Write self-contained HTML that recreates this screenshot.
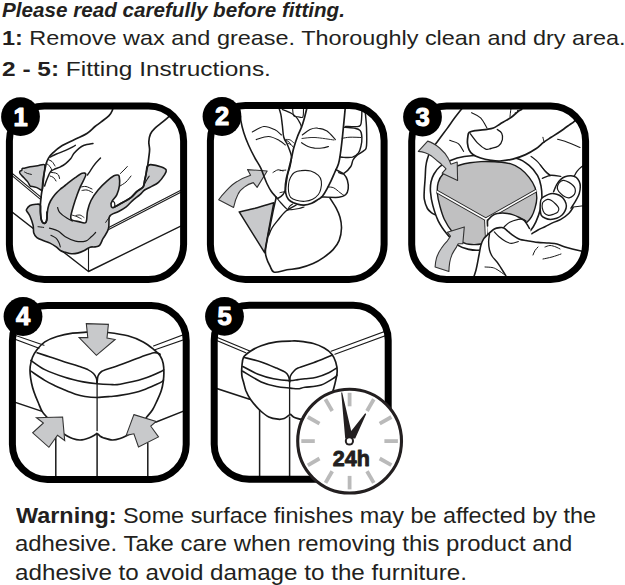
<!DOCTYPE html>
<html><head><meta charset="utf-8">
<style>
html,body{margin:0;padding:0;background:#fff;width:625px;height:585px;overflow:hidden;}
body{position:relative;font-family:"Liberation Sans",sans-serif;color:#231f20;}
.t{position:absolute;white-space:nowrap;left:0;line-height:1;transform-origin:0 0;}
b{font-weight:bold;}
svg{position:absolute;left:0;top:0;}
svg text{font-family:"Liberation Sans",sans-serif;font-weight:bold;}
</style></head><body>
<div class="t" id="l1" style="left:2.40px;top:-0.20px;font-size:20.5px;font-weight:bold;font-style:italic;transform:scaleX(1.0068);">Please read carefully before fitting.</div>
<div class="t" id="l2" style="left:1.78px;top:27.10px;font-size:21px;transform:scaleX(1.1158);"><b>1:</b> Remove wax and grease. Thoroughly clean and dry area.</div>
<div class="t" id="l3" style="left:1.74px;top:57.50px;font-size:21px;transform:scaleX(1.1636);"><b>2 - 5:</b> Fitting Instructions.</div>
<svg width="625" height="585" viewBox="0 0 625 585" stroke-linecap="round" stroke-linejoin="round">
<defs>
<clipPath id="c1"><rect x="9.4" y="105.9" width="174.2" height="173.6" rx="35"/></clipPath>
<clipPath id="c2"><rect x="210.4" y="105.4" width="173.7" height="174" rx="35"/></clipPath>
<clipPath id="c3"><rect x="411.7" y="105.9" width="173.9" height="173.6" rx="35"/></clipPath>
<clipPath id="c4"><rect x="12.4" y="305.4" width="173.8" height="174" rx="35"/></clipPath>
<clipPath id="c5"><rect x="214.2" y="305.3" width="174" height="174" rx="35"/></clipPath>
</defs>
<g clip-path="url(#c1)">
<path d="M8.0,170.0 L41.5,197.6" fill="none" stroke="#1a1a1a" stroke-width="1.10"/>
<path d="M8.0,172.3 L40.5,199.4" fill="none" stroke="#1a1a1a" stroke-width="1.10"/>
<path d="M8.0,208.8 L88.5,271.5 L186.0,223.5" fill="none" stroke="#1a1a1a" stroke-width="1.40"/>
<path d="M88.5,248.0 L88.5,271.5" fill="none" stroke="#1a1a1a" stroke-width="1.10"/>
<path d="M100.0,231.9 L186.0,187.7" fill="none" stroke="#1a1a1a" stroke-width="1.10"/>
<path d="M100.0,233.9 L186.0,189.7" fill="none" stroke="#1a1a1a" stroke-width="1.10"/>
<path d="M22.2,168.6 C21.9,168.9 22.2,169.9 21.8,170.3 C21.4,170.8 20.1,170.7 19.8,171.3 C19.5,171.9 19.4,172.6 20.1,173.7 C20.8,174.8 22.6,176.4 23.9,177.8 C25.2,179.2 26.7,180.5 27.7,181.9 C28.7,183.3 29.4,185.2 30.1,186.0 C30.8,186.8 31.1,186.2 32.1,186.4 C33.1,186.6 34.8,186.9 36.2,187.4 C37.6,187.9 39.3,189.0 40.3,189.5 C41.3,190.0 41.6,191.4 42.1,190.5 C42.6,189.6 42.8,186.8 43.1,184.0 C43.4,181.2 43.9,176.9 44.1,173.7 C44.3,170.5 45.6,166.1 44.5,164.8 C43.4,163.5 40.0,165.5 37.6,165.8 C35.2,166.1 32.4,166.4 30.1,166.8 C27.8,167.2 25.2,167.9 23.9,168.2 C22.6,168.5 22.5,168.2 22.2,168.6Z" fill="#c8c9cb" stroke="#1a1a1a" stroke-width="1.50"/>
<path d="M24.6,172.0 C25.1,172.2 26.2,173.0 27.3,173.4 C28.4,173.8 30.7,174.2 31.4,174.4" fill="none" stroke="#1a1a1a" stroke-width="1.00"/>
<path d="M26.5,209.5 C27.0,208.5 28.4,206.4 30.0,205.5 C31.6,204.6 34.3,204.4 36.0,204.3 C37.7,204.2 39.5,203.7 40.3,205.0 C41.0,206.3 40.4,209.8 40.5,212.0 C40.6,214.2 40.6,216.7 41.0,218.5 C41.4,220.3 42.1,222.0 42.8,222.8 C43.5,223.6 44.3,223.7 45.0,223.3 C45.7,222.9 46.4,222.1 46.8,220.5 C47.2,218.9 47.0,216.1 47.2,214.0 C47.4,211.9 47.5,210.2 48.0,208.0 C48.5,205.8 49.3,203.2 50.5,201.0 C51.7,198.8 53.4,196.4 55.0,194.5 C56.6,192.6 58.5,190.8 60.0,189.5 C61.5,188.2 62.6,187.5 64.0,186.4 C65.4,185.3 66.3,184.4 68.2,182.9 C70.1,181.4 72.9,179.2 75.2,177.6 C77.5,176.0 80.5,173.6 82.3,173.2 C84.1,172.8 86.1,172.8 85.8,175.0 C85.5,177.2 82.0,183.0 80.5,186.4 C79.0,189.8 78.2,192.0 77.0,195.2 C75.8,198.4 74.5,202.3 73.5,205.8 C72.5,209.3 71.1,214.0 70.8,216.3 C70.5,218.7 70.4,219.0 71.7,219.9 C73.0,220.8 76.4,221.2 78.7,221.6 C81.0,222.0 84.3,224.2 85.8,222.5 C87.3,220.8 86.6,214.8 87.5,211.1 C88.4,207.4 89.2,204.0 91.0,200.5 C92.8,197.0 95.4,193.1 98.1,189.9 C100.8,186.7 104.3,183.4 106.9,181.1 C109.5,178.8 112.1,176.8 113.9,175.8 C115.7,174.8 116.6,174.9 117.5,175.0 C118.4,175.1 118.9,174.8 119.2,176.5 C119.5,178.2 119.9,182.4 119.5,185.4 C119.1,188.4 118.1,192.0 116.9,194.6 C115.7,197.2 113.3,199.2 112.3,200.8 C111.3,202.4 111.0,202.9 111.0,204.0 C111.0,205.1 111.4,207.0 112.0,207.5 C112.6,208.0 112.8,207.8 114.6,206.9 C116.4,206.0 120.4,203.8 123.1,202.3 C125.8,200.8 128.5,199.5 130.8,197.7 C133.1,195.9 134.9,193.3 136.9,191.5 C138.9,189.7 141.8,188.7 143.1,186.9 C144.4,185.1 144.1,183.1 144.6,180.8 C145.1,178.5 145.8,175.5 146.2,173.1 C146.6,170.7 146.4,167.9 147.2,166.5 C148.0,165.1 148.4,164.5 150.8,164.6 C153.2,164.7 158.9,166.0 161.5,166.9 C164.1,167.8 165.7,168.7 166.2,170.0 C166.7,171.3 165.9,172.5 164.6,174.6 C163.3,176.7 160.8,180.2 158.5,182.3 C156.2,184.4 153.1,185.6 150.8,186.9 C148.5,188.2 146.4,188.7 144.6,190.0 C142.8,191.3 142.1,192.8 140.0,194.6 C137.9,196.4 134.6,198.8 132.3,200.8 C130.0,202.9 128.5,205.1 126.2,206.9 C123.9,208.7 121.0,210.2 118.5,211.5 C116.0,212.8 113.0,213.6 111.5,214.6 C110.0,215.6 109.7,215.2 109.2,217.5 C108.7,219.8 109.3,225.4 108.5,228.5 C107.7,231.6 105.6,234.4 104.6,236.2 C103.6,238.0 103.5,237.7 102.7,239.2 C101.9,240.7 100.9,244.1 99.6,245.4 C98.3,246.7 96.6,246.6 95.0,246.9 C93.4,247.2 91.9,246.5 90.0,247.2 C88.1,247.8 85.8,249.8 83.8,250.8 C81.8,251.8 79.8,252.6 77.7,253.1 C75.7,253.6 73.5,253.9 71.5,253.8 C69.5,253.7 67.2,252.8 65.4,252.3 C63.6,251.8 62.3,251.7 60.8,250.8 C59.3,249.9 58.0,248.2 56.2,246.9 C54.4,245.6 52.1,244.1 50.0,243.1 C47.9,242.1 46.0,241.7 43.8,240.8 C41.6,239.9 38.6,239.0 36.9,237.7 C35.2,236.4 34.4,235.1 33.8,233.1 C33.2,231.1 33.7,228.2 33.1,225.4 C32.5,222.6 31.0,218.5 30.0,216.2 C29.0,213.9 27.6,212.6 27.0,211.5 C26.4,210.4 26.0,210.5 26.5,209.5Z" fill="#c8c9cb" stroke="#1a1a1a" stroke-width="1.60"/>
<path d="M49.5,228.1 C50.9,228.6 55.5,229.6 58.1,231.0 C60.7,232.4 62.4,235.1 65.3,236.8 C68.2,238.5 72.0,240.4 75.4,241.1 C78.8,241.8 82.8,241.8 85.5,241.1 C88.2,240.4 89.6,238.2 91.3,236.8 C93.0,235.4 94.9,233.2 95.6,232.5" fill="none" stroke="#1a1a1a" stroke-width="1.20"/>
<path d="M50.9,235.3 C51.8,235.8 54.7,237.0 56.0,238.2 C57.3,239.4 58.2,241.1 58.9,242.6 C59.6,244.1 60.1,246.2 60.3,246.9" fill="none" stroke="#1a1a1a" stroke-width="1.10"/>
<path d="M38.0,226.7 C39.0,226.8 42.8,227.3 43.7,227.4" fill="none" stroke="#1a1a1a" stroke-width="1.00"/>
<path d="M57.6,207.5 C57.9,208.3 58.1,210.6 59.6,212.3 C61.1,214.1 64.6,216.6 66.8,218.0 C69.0,219.4 71.5,220.5 72.5,221.0" fill="none" stroke="#1a1a1a" stroke-width="1.20"/>
<path d="M105.7,222.4 C106.1,221.8 107.3,220.0 108.0,219.0 C108.7,218.0 109.7,217.0 110.0,216.6" fill="none" stroke="#1a1a1a" stroke-width="1.00"/>
<path d="M72.5,215.2 C73.2,215.4 75.5,216.0 76.9,216.6 C78.4,217.2 80.5,218.4 81.2,218.8" fill="none" stroke="#1a1a1a" stroke-width="1.00"/>
<path d="M120.0,186.0 C121.0,185.3 124.2,183.7 126.0,182.0 C127.8,180.3 130.2,177.0 131.0,176.0" fill="none" stroke="#1a1a1a" stroke-width="1.00"/>
<path d="M113.8,103.0 C113.5,104.2 113.1,108.4 112.3,110.5 C111.5,112.6 110.6,113.9 108.8,115.8 C107.0,117.7 103.5,120.1 101.2,121.9 C98.9,123.7 97.4,124.6 95.0,126.5 C92.6,128.4 90.3,131.3 86.9,133.5 C83.5,135.7 78.9,137.4 74.6,139.6 C70.2,141.8 64.4,144.3 60.8,146.5 C57.2,148.7 55.1,150.8 53.1,152.7 C51.1,154.6 49.6,156.3 48.5,158.1 C47.4,159.9 46.9,161.3 46.2,163.5 C45.6,165.7 45.1,168.6 44.6,171.2 C44.1,173.8 43.5,176.0 43.1,178.8 C42.7,181.6 42.6,185.2 42.3,188.1 C42.0,191.0 41.5,193.2 41.2,196.0 C40.9,198.8 40.5,202.2 40.4,205.0 C40.3,207.8 40.3,210.5 40.5,213.0 C40.7,215.5 40.9,218.3 41.4,220.0 C41.9,221.7 42.6,222.6 43.3,223.0 C44.0,223.4 45.0,223.3 45.6,222.5 C46.2,221.7 46.7,219.8 46.9,218.0 C47.1,216.2 46.9,213.0 46.9,212.0" fill="none" stroke="#1a1a1a" stroke-width="1.70"/>
<path d="M178.0,109.5 C177.0,110.3 174.5,112.1 171.9,114.2 C169.3,116.3 165.5,119.6 162.7,121.9 C159.9,124.2 157.1,126.0 155.0,128.1 C152.9,130.1 151.4,131.9 150.4,134.2 C149.4,136.5 148.9,139.3 148.8,141.9 C148.7,144.5 149.6,147.0 149.6,149.6 C149.6,152.2 149.1,154.7 148.8,157.3 C148.5,159.9 148.1,162.8 147.7,165.4 C147.3,168.0 146.7,170.5 146.2,173.1 C145.7,175.7 145.1,178.5 144.6,180.8 C144.1,183.1 144.4,185.1 143.1,186.9 C141.8,188.7 138.9,189.7 136.9,191.5 C134.9,193.3 133.1,195.9 130.8,197.7 C128.5,199.5 125.8,200.8 123.1,202.3 C120.4,203.8 116.0,206.1 114.6,206.9" fill="none" stroke="#1a1a1a" stroke-width="1.70"/>
<path d="M112.3,200.8 C112.6,201.1 113.9,201.6 114.3,202.3 C114.7,203.0 114.8,204.2 114.8,205.0 C114.8,205.8 114.6,206.6 114.6,206.9" fill="none" stroke="#1a1a1a" stroke-width="1.20"/>
<path d="M144.6,183.8 C145.0,183.1 146.2,180.8 147.0,179.5 C147.8,178.2 148.8,176.8 149.2,176.2" fill="none" stroke="#1a1a1a" stroke-width="1.10"/>
<path d="M50.3,157.1 C51.3,156.6 53.9,155.1 56.4,154.0 C58.9,152.9 62.9,151.6 65.6,150.4 C68.3,149.2 71.2,147.7 72.8,146.8 C74.4,146.0 75.0,145.6 75.4,145.3" fill="none" stroke="#1a1a1a" stroke-width="1.40"/>
<path d="M93.0,143.5 C91.5,143.8 86.4,144.5 84.1,145.3 C81.8,146.1 80.7,146.9 79.0,148.3 C77.3,149.7 75.2,151.8 73.8,153.5 C72.4,155.2 72.2,156.9 70.8,158.6 C69.4,160.3 67.3,162.3 65.6,163.7 C63.9,165.1 62.2,166.0 60.5,166.8 C58.8,167.7 56.9,168.1 55.4,168.8 C53.9,169.5 52.3,170.0 51.3,170.9 C50.3,171.8 50.1,172.3 49.2,174.0 C48.4,175.7 47.0,179.2 46.2,181.2 C45.4,183.2 44.9,185.2 44.6,186.0" fill="none" stroke="#1a1a1a" stroke-width="1.50"/>
<path d="M100.5,158.0 C99.5,159.1 96.1,162.5 94.4,164.7 C92.7,166.8 91.5,169.2 90.3,170.9 C89.1,172.6 88.0,174.3 87.5,175.0" fill="none" stroke="#1a1a1a" stroke-width="1.40"/>
<path d="M48.5,159.8 C49.1,160.1 50.9,160.5 52.0,161.5 C53.1,162.5 54.5,165.2 55.0,166.0" fill="none" stroke="#1a1a1a" stroke-width="1.00"/>
<path d="M47.0,163.8 C47.5,164.2 49.2,165.5 50.0,166.5 C50.8,167.5 51.5,169.4 51.8,170.0" fill="none" stroke="#1a1a1a" stroke-width="1.00"/>
<path d="M51.5,172.5 C52.2,172.6 54.3,172.6 55.5,173.0 C56.7,173.4 57.8,174.1 58.5,175.0 C59.2,175.9 59.3,177.9 59.5,178.5" fill="none" stroke="#1a1a1a" stroke-width="1.00"/>
<path d="M50.0,176.0 C50.6,176.2 52.5,176.7 53.5,177.5 C54.5,178.3 55.6,180.4 56.0,181.0" fill="none" stroke="#1a1a1a" stroke-width="1.00"/>
<path d="M120.4,173.5 C121.0,172.9 122.8,171.2 124.0,170.0 C125.2,168.8 126.8,167.1 127.3,166.5" fill="none" stroke="#1a1a1a" stroke-width="1.00"/>
<path d="M76.0,215.5 C76.7,215.4 78.7,214.7 80.0,215.0 C81.3,215.3 83.3,217.1 84.0,217.5" fill="none" stroke="#1a1a1a" stroke-width="0.90"/>
<path d="M81.0,187.0 C81.8,186.9 84.2,186.2 86.0,186.5 C87.8,186.8 91.0,188.6 92.0,189.0" fill="none" stroke="#1a1a1a" stroke-width="1.00"/>
<path d="M82.0,190.5 C82.8,190.4 85.2,189.7 87.0,190.0 C88.8,190.3 91.6,192.1 92.5,192.5" fill="none" stroke="#1a1a1a" stroke-width="1.00"/>
</g>
<g clip-path="url(#c2)">
<path d="M218.7,199.8 C222,195 231,185 237,181.6 C242,178.5 247,176.5 250.6,175.3 L247.5,169.6 L267.2,171 L257.1,187.4 L253.3,182.6 C249,183.8 247,185 244.6,186.9 C241,189.5 238.5,193 237.9,194.5 C236,198 234.5,203 233.6,207.5 Z" fill="#c8c9cb" stroke="#333" stroke-width="1.1"/>
<path d="M239.2,211.9 C244,210.8 250,209.6 255,208.3 C261,206.5 267,204.6 273.8,202.7 L268.5,231.2 L264.6,252.7 Z" fill="#c8c9cb" stroke="#1a1a1a" stroke-width="1.5"/>
<path d="M276.2,197.3 C275.6,200.1 273.7,208.2 272.5,214.0 C271.3,219.8 270.0,226.0 268.8,232.0 C267.6,238.0 265.9,245.7 265.5,250.0 C265.1,254.3 265.8,255.3 266.5,258.0 C267.2,260.7 268.7,263.6 270.0,266.0 C271.3,268.4 271.5,271.6 274.3,272.2 C277.1,272.8 282.9,270.5 287.0,269.8 C291.1,269.1 294.8,269.2 299.2,268.1 C303.6,267.1 309.0,265.3 313.1,263.5 C317.2,261.7 320.5,259.6 323.8,257.3 C327.1,255.0 330.5,252.4 333.1,249.6 C335.7,246.8 337.8,244.0 339.2,240.4 C340.6,236.8 341.4,231.9 341.5,228.1 C341.6,224.2 340.9,220.6 340.0,217.3 C339.1,214.0 337.9,211.3 336.2,208.1 C334.5,204.9 331.0,199.8 330.0,198.1" fill="none" stroke="#1a1a1a" stroke-width="1.60"/>
<path d="M296.2,205.0 C294.5,206.0 289.1,208.4 286.0,211.0 C282.9,213.6 280.0,217.6 277.7,220.4 C275.4,223.2 273.5,225.4 272.0,228.0 C270.5,230.6 269.1,234.5 268.5,235.8" fill="none" stroke="#1a1a1a" stroke-width="1.40"/>
<path d="M239.5,107.0 C239.7,109.2 240.1,116.1 240.8,120.4 C241.5,124.7 242.5,128.6 243.8,132.7 C245.1,136.8 246.7,140.9 248.5,145.0 C250.3,149.1 252.5,153.5 254.6,157.3 C256.6,161.2 259.3,165.0 260.8,168.1 C262.3,171.2 262.8,173.2 263.8,175.8 C264.8,178.4 265.7,181.0 266.9,183.5 C268.1,186.0 269.5,188.8 271.0,191.0 C272.5,193.2 275.2,196.0 276.0,197.0" fill="none" stroke="#1a1a1a" stroke-width="1.60"/>
<path d="M285.4,190.0 C285.0,190.8 284.1,193.2 283.0,194.5 C281.9,195.8 279.7,197.5 278.5,198.0 C277.3,198.5 276.4,197.6 276.0,197.5" fill="none" stroke="#1a1a1a" stroke-width="1.50"/>
<path d="M252.3,131.9 C254.2,131.0 260.1,126.9 263.8,126.5 C267.5,126.1 271.7,128.2 274.6,129.6 C277.6,131.0 280.4,134.1 281.5,135.0" fill="none" stroke="#1a1a1a" stroke-width="1.10"/>
<path d="M256.2,139.6 C258.2,139.1 264.7,136.4 268.5,136.5 C272.3,136.6 276.4,139.0 279.2,140.4 C282.0,141.8 284.4,144.2 285.4,145.0" fill="none" stroke="#1a1a1a" stroke-width="1.10"/>
<path d="M273.0,172.5 C273.8,172.1 276.3,170.1 278.0,169.8 C279.7,169.6 282.2,170.8 283.0,171.0" fill="none" stroke="#1a1a1a" stroke-width="1.00"/>
<path d="M285.0,140.0 C285.6,140.2 287.5,140.7 288.5,141.5 C289.5,142.3 290.6,144.4 291.0,145.0" fill="none" stroke="#1a1a1a" stroke-width="1.00"/>
<path d="M277.7,104.0 C278.2,105.7 280.0,110.7 280.8,114.2 C281.6,117.7 281.8,121.2 282.3,125.0 C282.8,128.8 283.0,134.2 283.8,137.3 C284.6,140.4 285.9,141.2 286.9,143.5 C287.9,145.8 289.2,148.9 290.0,151.2 C290.8,153.5 291.5,154.8 291.5,157.3 C291.5,159.9 290.6,163.7 290.0,166.5 C289.4,169.3 288.3,171.4 287.7,174.2 C287.1,177.0 286.6,180.9 286.2,183.5 C285.8,186.1 285.5,188.9 285.4,190.0" fill="none" stroke="#1a1a1a" stroke-width="1.50"/>
<path d="M307.9,104.0 C307.2,106.6 305.1,115.7 304.0,119.6 C302.9,123.5 302.6,124.5 301.5,127.3 C300.4,130.1 298.9,132.9 297.6,136.3 C296.3,139.7 294.9,144.0 293.8,147.8 C292.7,151.6 292.1,155.7 291.2,159.3 C290.3,162.9 289.4,166.3 288.6,169.6 C287.8,172.9 286.8,176.0 286.2,179.2 C285.6,182.4 285.2,185.9 285.3,188.8 C285.4,191.7 285.8,194.4 286.7,196.5 C287.6,198.6 288.8,200.0 290.6,201.3 C292.4,202.6 295.1,203.5 297.3,204.1 C299.5,204.7 301.6,205.2 304.0,205.1 C306.4,204.9 309.3,204.2 311.7,203.2 C314.1,202.2 316.6,200.4 318.4,199.3 C320.1,198.2 320.8,198.2 322.2,196.5 C323.6,194.8 325.6,191.4 327.0,188.8 C328.4,186.2 329.6,183.8 330.9,181.1 C332.2,178.4 333.4,175.4 334.7,172.5 C336.0,169.6 337.5,167.1 338.5,163.8 C339.5,160.6 339.9,157.1 340.5,153.0 C341.1,148.9 341.6,144.3 342.2,139.2 C342.8,134.0 343.3,128.0 343.9,122.1 C344.5,116.2 345.3,107.0 345.6,104.0" fill="none" stroke="#1a1a1a" stroke-width="1.70"/>
<path d="M282.3,109.4 C283.8,110.0 288.9,111.9 291.2,113.2 C293.5,114.5 294.8,115.4 296.3,117.1 C297.8,118.8 299.3,121.8 300.2,123.5 C301.1,125.2 301.3,126.7 301.5,127.3" fill="none" stroke="#1a1a1a" stroke-width="1.30"/>
<path d="M292.5,106.0 C292.6,106.8 292.6,109.4 292.8,111.0 C293.0,112.6 292.9,114.8 293.8,115.8 C294.7,116.8 296.5,116.6 298.0,116.8 C299.5,117.0 301.8,118.2 302.7,117.1 C303.6,116.0 303.4,112.2 303.5,110.0 C303.6,107.8 303.5,105.0 303.5,104.0" fill="none" stroke="#1a1a1a" stroke-width="1.10"/>
<path d="M302.3,135.0 C303.6,134.1 307.4,130.7 310.0,129.5 C312.6,128.3 314.9,127.8 317.7,128.1 C320.5,128.3 324.1,129.1 327.0,131.0 C329.9,132.9 334.0,138.2 335.4,139.6" fill="none" stroke="#1a1a1a" stroke-width="1.10"/>
<path d="M301.5,142.7 C302.6,143.3 305.8,145.6 308.0,146.5 C310.2,147.4 312.3,147.8 314.6,148.1 C316.9,148.3 319.7,148.3 322.0,148.0 C324.3,147.7 327.4,146.8 328.5,146.5" fill="none" stroke="#1a1a1a" stroke-width="1.10"/>
<path d="M302.0,138.5 C304.2,138.3 309.7,137.2 315.0,137.5 C320.3,137.8 330.8,139.6 334.0,140.0" fill="none" stroke="#1a1a1a" stroke-width="0.90"/>
<path d="M286.0,139.5 C286.7,139.6 288.7,139.2 290.0,139.8 C291.3,140.4 293.3,142.5 294.0,143.0" fill="none" stroke="#1a1a1a" stroke-width="0.90"/>
<path d="M288.0,143.5 C288.5,143.7 290.2,143.9 291.0,144.5 C291.8,145.1 292.7,146.6 293.0,147.0" fill="none" stroke="#1a1a1a" stroke-width="0.90"/>
<path d="M294.4,172.5 C296.1,171.4 298.4,170.8 301.1,170.6 C303.8,170.3 307.8,170.2 310.7,171.0 C313.6,171.8 316.6,173.7 318.4,175.4 C320.2,177.1 320.9,178.9 321.3,181.1 C321.7,183.3 321.3,186.6 320.8,188.8 C320.3,191.0 319.8,192.8 318.4,194.5 C317.0,196.2 314.9,198.2 312.6,199.3 C310.4,200.4 307.6,201.1 304.9,201.3 C302.2,201.5 298.7,201.0 296.3,200.3 C293.9,199.7 291.9,198.8 290.6,197.4 C289.3,196.0 288.9,193.9 288.6,191.7 C288.3,189.5 288.3,186.4 288.6,184.0 C288.9,181.6 289.6,179.2 290.6,177.3 C291.6,175.4 292.6,173.6 294.4,172.5Z" fill="none" stroke="#1a1a1a" stroke-width="1.10"/>
<path d="M287.7,209.9 C288.6,209.8 291.1,209.7 293.0,209.5 C294.9,209.3 297.2,208.9 299.0,208.5 C300.8,208.1 303.2,207.2 304.0,207.0" fill="none" stroke="#1a1a1a" stroke-width="1.20"/>
<path d="M292.5,204.1 C292.0,204.5 290.3,205.5 289.5,206.5 C288.7,207.5 288.0,209.3 287.7,209.9" fill="none" stroke="#1a1a1a" stroke-width="1.20"/>
<path d="M276.0,197.0 C276.8,198.0 279.1,200.8 281.0,203.0 C282.9,205.2 286.6,208.8 287.7,209.9" fill="none" stroke="#1a1a1a" stroke-width="1.20"/>
<path d="M280.0,170.6 C281.0,170.5 284.8,170.2 285.8,170.1" fill="none" stroke="#1a1a1a" stroke-width="1.00"/>
<path d="M280.0,192.6 C280.8,192.4 284.0,191.8 284.8,191.7" fill="none" stroke="#1a1a1a" stroke-width="1.00"/>
<path d="M345.6,126.4 C346.7,126.4 349.9,126.6 352.0,126.6 C354.1,126.6 357.0,126.9 358.5,126.4 C360.0,125.9 360.4,126.2 361.0,123.8 C361.6,121.4 361.8,115.1 361.9,111.8 C362.0,108.5 361.6,105.3 361.5,104.0" fill="none" stroke="#1a1a1a" stroke-width="1.40"/>
<path d="M343.9,127.2 C345.6,127.3 351.5,127.5 354.2,128.1 C356.9,128.7 358.9,129.0 360.2,130.6 C361.5,132.2 361.8,134.9 361.9,137.5 C362.0,140.1 361.6,143.4 361.0,146.0 C360.4,148.6 359.9,151.1 358.5,152.9 C357.1,154.8 354.9,156.3 352.5,157.1 C350.1,157.8 346.0,157.4 343.9,157.4 C341.8,157.4 340.6,157.1 340.0,157.0" fill="none" stroke="#1a1a1a" stroke-width="1.40"/>
<path d="M342.2,138.3 C343.5,138.1 346.9,137.3 350.0,137.2 C353.1,137.1 359.2,137.4 361.0,137.5" fill="none" stroke="#1a1a1a" stroke-width="1.00"/>
<path d="M365.3,104.0 C365.3,105.3 365.1,107.9 365.3,111.8 C365.5,115.7 366.3,121.5 366.5,127.2 C366.7,132.9 366.9,142.2 366.5,146.0 C366.1,149.8 366.0,148.7 364.4,150.3 C362.8,151.9 358.7,153.8 356.8,155.4 C354.9,157.0 354.0,158.2 353.0,160.0 C352.0,161.8 352.3,164.3 350.8,166.5 C349.3,168.7 345.9,172.4 343.9,173.4 C341.9,174.4 339.6,172.7 338.8,172.5" fill="none" stroke="#1a1a1a" stroke-width="1.50"/>
<path d="M335.7,169.6 C337.1,170.4 341.9,172.4 343.9,174.2 C345.8,176.0 346.7,177.8 347.4,180.2 C348.1,182.6 348.5,186.4 348.2,188.8 C347.9,191.2 347.2,193.3 345.6,194.7 C344.0,196.1 342.9,196.9 338.8,197.3 C334.8,197.7 324.2,197.0 321.3,196.9" fill="none" stroke="#1a1a1a" stroke-width="1.50"/>
<path d="M328.0,186.9 C328.9,187.1 331.7,186.9 333.7,187.8 C335.7,188.8 338.3,191.3 340.0,192.6 C341.7,193.9 343.3,195.0 344.0,195.5" fill="none" stroke="#1a1a1a" stroke-width="1.00"/>
</g>
<g clip-path="url(#c3)">
<path d="M464.0,106.0 C462.5,107.9 457.9,113.6 455.1,117.3 C452.3,121.0 450.2,124.2 447.4,128.1 C444.6,131.9 441.0,136.6 438.2,140.4 C435.4,144.2 432.3,148.1 430.5,151.2 C428.7,154.3 428.2,156.2 427.4,158.8 C426.6,161.4 426.2,163.2 425.8,166.5 C425.4,169.8 425.4,174.9 425.1,178.8 C424.9,182.7 424.4,186.6 424.3,190.0 C424.2,193.4 423.8,196.1 424.3,199.2 C424.8,202.3 426.1,206.2 427.4,208.5 C428.7,210.8 430.6,212.0 432.0,213.1 C433.4,214.2 434.9,214.5 435.5,214.8" fill="none" stroke="#1a1a1a" stroke-width="1.60"/>
<path d="M449.7,140.3 C451.1,140.9 456.1,141.8 458.4,143.7 C460.7,145.5 462.7,150.1 463.6,151.4" fill="none" stroke="#1a1a1a" stroke-width="1.10"/>
<path d="M471.6,112.7 C473.1,113.5 478.0,115.2 480.6,117.8 C483.2,120.3 485.9,126.3 487.0,128.0" fill="none" stroke="#1a1a1a" stroke-width="1.10"/>
<path d="M515.2,112.7 C516.3,113.2 519.6,114.0 522.0,115.5 C524.4,117.0 528.1,120.5 529.3,121.5" fill="none" stroke="#1a1a1a" stroke-width="1.00"/>
<path d="M517.5,110.5 C518.6,110.8 521.8,111.1 524.0,112.5 C526.2,113.9 529.8,117.9 531.0,119.0" fill="none" stroke="#1a1a1a" stroke-width="1.00"/>
<path d="M511.3,106.0 C511.2,107.0 510.7,110.2 510.5,112.0 C510.3,113.8 510.1,115.8 510.0,116.5" fill="none" stroke="#1a1a1a" stroke-width="1.00"/>
<path d="M533.0,109.0 C533.5,110.5 535.2,115.2 536.0,118.0 C536.8,120.8 537.7,124.7 538.0,126.0" fill="none" stroke="#1a1a1a" stroke-width="1.00"/>
<path d="M557.6,139.2 C559.3,139.8 564.3,141.1 568.0,142.5 C571.7,143.9 578.0,146.7 580.0,147.5" fill="none" stroke="#1a1a1a" stroke-width="1.10"/>
<path d="M464.3,156.5 C469.2,155.7 474.9,155.4 480.0,155.3 C485.1,155.2 488.8,155.3 495.0,155.8 C501.2,156.3 511.4,156.9 517.1,158.5 C522.8,160.1 525.7,162.6 529.1,165.4 C532.5,168.2 535.6,172.2 537.6,175.6 C539.6,179.0 540.3,182.2 541.0,185.9 C541.7,189.6 542.0,193.9 541.9,197.9 C541.8,201.9 541.2,205.8 540.2,209.8 C539.2,213.8 537.5,218.4 535.9,221.8 C534.3,225.2 532.8,227.7 530.8,230.3 C528.8,232.9 527.0,235.0 523.9,237.2 C520.8,239.4 516.3,241.7 512.0,243.5 C507.7,245.3 503.6,246.9 498.0,248.0 C492.4,249.1 483.1,250.0 478.2,250.2 C473.3,250.4 472.2,250.2 468.9,249.4 C465.6,248.6 461.8,247.9 458.2,245.4 C454.6,242.9 450.7,238.7 447.4,234.6 C444.1,230.5 440.6,225.7 438.2,220.8 C435.8,215.9 434.1,210.2 432.8,205.4 C431.5,200.6 430.8,195.9 430.5,192.0 C430.2,188.1 430.4,185.0 431.0,182.0 C431.6,179.0 432.5,176.6 434.0,174.0 C435.5,171.4 437.2,168.8 440.0,166.5 C442.8,164.2 446.4,162.1 450.5,160.4 C454.6,158.7 459.4,157.3 464.3,156.5Z" fill="#fff" stroke="#1a1a1a" stroke-width="1.60"/>
<path d="M470.0,162.8 C473.5,162.2 476.8,161.8 481.0,161.6 C485.2,161.4 490.1,161.5 495.0,161.8 C499.9,162.2 506.1,162.5 510.3,163.7 C514.5,164.9 517.4,166.5 520.5,168.8 C523.6,171.1 526.7,174.3 529.1,177.4 C531.5,180.5 533.7,184.2 535.0,187.6 C536.3,191.0 536.8,194.5 536.8,197.9 C536.8,201.3 535.9,205.0 535.0,208.1 C534.1,211.2 532.9,214.4 531.6,216.7 C530.3,219.0 529.5,219.8 527.4,221.8 C525.3,223.9 522.2,226.6 519.0,229.0 C515.8,231.4 512.0,234.0 508.0,236.0 C504.0,238.0 499.2,239.9 495.0,241.2 C490.8,242.5 486.4,243.2 482.8,243.8 C479.2,244.4 476.8,244.8 473.5,244.6 C470.2,244.3 466.4,244.5 462.8,242.3 C459.2,240.1 455.1,235.3 452.0,231.5 C448.9,227.7 446.4,223.5 444.3,219.2 C442.2,214.8 440.9,209.8 439.7,205.4 C438.5,201.0 437.6,196.8 437.3,193.0 C437.1,189.2 437.3,185.6 438.2,182.5 C439.1,179.4 440.5,176.6 442.8,174.2 C445.1,171.8 449.1,169.6 452.0,168.1 C454.9,166.6 457.0,165.9 460.0,165.0 C463.0,164.1 466.5,163.4 470.0,162.8Z" fill="#c0c0c1" stroke="#1a1a1a" stroke-width="1.40"/>
<path d="M436.8,191.5 L485.8,219.2" stroke="#222" stroke-width="3.4" stroke-linecap="butt"/>
<path d="M485.8,219.2 L536.5,190.5" stroke="#222" stroke-width="3.4" stroke-linecap="butt"/>
<path d="M485.8,219.2 L487.0,246.0" stroke="#222" stroke-width="3.4" stroke-linecap="butt"/>
<path d="M436.8,191.5 L485.8,219.2" stroke="#fff" stroke-width="1.6" stroke-linecap="butt"/>
<path d="M485.8,219.2 L536.5,190.5" stroke="#fff" stroke-width="1.6" stroke-linecap="butt"/>
<path d="M485.8,219.2 L487.0,246.0" stroke="#fff" stroke-width="1.6" stroke-linecap="butt"/>
<path d="M469.1,132.5 C470.4,131.4 472.5,131.1 475.5,130.6 C478.5,130.1 484.0,129.7 487.0,129.3 C490.0,128.9 491.3,128.8 493.4,128.0 C495.5,127.2 497.7,125.5 499.8,124.2 C501.9,122.9 504.3,121.6 506.2,120.4 C508.1,119.2 509.8,118.3 511.3,117.2 C512.8,116.1 513.9,115.1 515.2,114.0 C516.5,112.9 517.7,111.8 519.0,110.8 C520.3,109.8 521.2,109.1 523.0,108.0 C524.8,106.9 517.2,104.7 530.0,104.0 C542.8,103.3 588.3,103.0 600.0,104.0 C611.7,105.0 603.3,108.2 600.0,110.0 C596.7,111.8 584.3,113.1 580.0,115.0 C575.7,116.9 576.1,119.6 574.3,121.3 C572.5,123.0 571.5,123.4 569.1,125.1 C566.8,126.8 563.2,129.5 560.2,131.5 C557.2,133.5 554.0,135.5 551.2,137.3 C548.4,139.1 546.0,140.5 543.5,142.4 C541.0,144.3 538.9,146.8 535.9,148.8 C532.9,150.8 529.5,152.9 525.6,154.6 C521.8,156.3 517.1,158.0 512.8,159.1 C508.5,160.2 503.6,160.8 500.0,161.0 C496.4,161.2 494.1,160.8 490.9,160.3 C487.7,159.8 483.6,159.0 480.6,158.0 C477.6,157.0 474.8,155.7 472.9,154.3 C471.0,152.9 470.0,151.6 469.1,149.8 C468.2,148.0 467.7,145.5 467.5,143.4 C467.3,141.3 467.5,138.8 467.8,137.0 C468.1,135.2 467.8,133.6 469.1,132.5Z" fill="#fff" stroke="none"/>
<path d="M521.6,109.5 C521.2,109.7 520.1,110.0 519.0,110.8 C517.9,111.5 516.5,112.9 515.2,114.0 C513.9,115.1 512.8,116.1 511.3,117.2 C509.8,118.3 508.1,119.2 506.2,120.4 C504.3,121.6 501.9,122.9 499.8,124.2 C497.7,125.5 495.5,127.2 493.4,128.0 C491.3,128.8 490.0,128.9 487.0,129.3 C484.0,129.7 478.5,130.1 475.5,130.6 C472.5,131.1 470.4,131.4 469.1,132.5 C467.8,133.6 468.1,135.2 467.8,137.0 C467.5,138.8 467.3,141.3 467.5,143.4 C467.7,145.5 468.2,148.0 469.1,149.8 C470.0,151.7 471.0,153.1 472.9,154.5 C474.8,155.9 477.6,157.0 480.6,158.0 C483.6,159.0 487.7,159.8 490.9,160.3 C494.1,160.8 496.4,161.2 500.0,161.0 C503.6,160.8 508.5,160.2 512.8,159.1 C517.1,158.0 521.8,156.3 525.6,154.6 C529.5,152.9 532.9,150.8 535.9,148.8 C538.9,146.8 541.0,144.3 543.5,142.4 C546.0,140.5 548.4,139.1 551.2,137.3 C554.0,135.5 557.2,133.5 560.2,131.5 C563.2,129.5 566.8,126.8 569.1,125.1 C571.5,123.4 572.5,123.0 574.3,121.3 C576.1,119.6 579.0,116.0 580.0,115.0" fill="none" stroke="#1a1a1a" stroke-width="1.70"/>
<path d="M531.0,156.3 C532.2,157.3 535.8,159.8 538.2,162.4 C540.6,165.0 543.4,169.5 545.4,171.7 C547.4,173.9 549.2,175.1 550.0,175.8" fill="none" stroke="#1a1a1a" stroke-width="1.10"/>
<path d="M542.9,137.3 C543.1,138.2 544.0,141.6 544.2,142.4" fill="none" stroke="#1a1a1a" stroke-width="1.00"/>
<path d="M470.4,133.8 C471.7,135.4 475.4,140.8 478.0,143.4 C480.6,146.0 483.6,148.3 485.7,149.2 C487.8,150.0 488.8,149.0 490.9,148.5 C493.0,148.0 496.6,147.5 498.5,146.0 C500.4,144.5 501.9,141.7 502.4,139.6 C502.9,137.5 502.5,134.9 501.7,133.2 C500.9,131.5 498.0,130.1 497.3,129.5" fill="none" stroke="#1a1a1a" stroke-width="1.30"/>
<path d="M418.3,151.4 L427.7,141.1 C431,142 436,145 439.6,148 C443,151 446.5,155 448.2,158.2 C449.5,160.5 450.3,162.5 450.8,164.2 L457.2,162.1 L457.6,180.4 L442.2,173.2 L446,168.9 C444.5,167.3 443.5,166 442.2,165.1 C440,162.8 438.5,161.8 437.1,160.8 C435,158.9 433,157 431.1,155.7 C429,154.4 427,153.4 425.1,152.7 C423,152 420.5,151.6 418.3,151.4 Z" fill="#c8c9cb" stroke="#333" stroke-width="1.1"/>
<path d="M435.1,266.9 C435.2,263.5 435.8,260.5 436.6,257.7 C437.8,254 439.4,251 441.2,248.5 C443,245.5 445.2,243 447.4,240.8 L450.5,236.2 L447.4,232.3 L464.3,226.9 L462.8,243.8 L458.2,243.8 C457.5,244.8 457,245.8 456.6,246.9 C454.8,249.5 453.2,252 452,254.6 C451,257 450.2,259.5 449.7,262.3 C449.2,265.5 449,268.5 448.9,271.5 Z" fill="#c8c9cb" stroke="#333" stroke-width="1.1"/>
<path d="M487.6,221.0 C487.8,219.6 487.8,220.3 488.6,219.4 C489.4,218.5 491.0,216.6 492.4,215.6 C493.8,214.6 495.1,214.0 497.2,213.6 C499.3,213.2 502.3,213.0 504.9,213.2 C507.4,213.4 510.1,213.9 512.5,214.6 C514.9,215.3 517.4,216.5 519.3,217.5 C521.2,218.5 522.8,219.3 524.1,220.4 C525.4,221.5 526.0,222.8 527.0,224.2 C528.0,225.6 529.3,227.0 530.0,229.0 C530.7,231.0 531.7,234.1 531.0,236.0 C530.3,237.9 527.8,239.9 526.0,240.5 C524.2,241.1 521.8,240.0 520.2,239.5 C518.6,239.0 518.1,238.7 516.4,237.6 C514.6,236.5 511.8,234.4 509.7,232.8 C507.6,231.2 505.5,228.9 503.9,228.0 C502.3,227.1 501.7,227.4 500.1,227.6 C498.5,227.8 496.2,228.0 494.3,229.0 C492.4,230.0 489.8,234.0 488.6,233.8 C487.4,233.6 487.5,230.1 487.3,228.0 C487.1,225.9 487.4,222.4 487.6,221.0Z" fill="#fff" stroke="none"/>
<path d="M487.6,226.0 C487.6,225.2 487.4,222.1 487.6,221.0 C487.8,219.9 487.8,220.3 488.6,219.4 C489.4,218.5 491.0,216.6 492.4,215.6 C493.8,214.6 495.1,214.0 497.2,213.6 C499.3,213.2 502.3,213.0 504.9,213.2 C507.4,213.4 510.1,213.9 512.5,214.6 C514.9,215.3 517.4,216.5 519.3,217.5 C521.2,218.5 522.8,219.3 524.1,220.4 C525.4,221.5 526.1,222.8 527.0,224.2 C527.9,225.5 529.1,227.8 529.5,228.5" fill="none" stroke="#1a1a1a" stroke-width="1.50"/>
<path d="M503.9,227.1 C504.9,226.3 507.3,223.6 509.7,222.3 C512.1,221.0 516.1,219.9 518.3,219.4 C520.5,218.9 521.8,219.1 523.1,219.4 C524.4,219.7 525.5,220.7 526.0,221.0" fill="none" stroke="#1a1a1a" stroke-width="1.20"/>
<path d="M472.0,282.0 C472.7,278.7 474.8,274.5 476.0,270.0 C477.2,265.5 478.2,259.1 479.0,255.0 C479.8,250.9 480.1,248.0 480.9,245.3 C481.7,242.6 482.5,240.5 483.8,238.6 C485.1,236.7 486.9,235.4 488.6,233.8 C490.4,232.2 492.4,230.0 494.3,229.0 C496.2,228.0 498.5,227.8 500.1,227.6 C501.7,227.4 502.3,227.1 503.9,228.0 C505.5,228.9 507.6,231.2 509.7,232.8 C511.8,234.4 514.6,236.5 516.4,237.6 C518.1,238.7 518.6,239.0 520.2,239.5 C521.8,240.0 524.1,240.2 526.0,240.5 C527.9,240.8 529.7,241.2 531.7,241.5 C533.7,241.8 535.1,242.2 538.0,242.4 C540.9,242.7 545.8,242.7 549.0,243.0 C552.2,243.3 554.3,243.3 557.0,244.0 C559.7,244.7 561.0,245.8 565.0,247.0 C569.0,248.2 575.2,249.7 581.0,251.0 C586.8,252.3 596.8,248.5 600.0,255.0 C603.2,261.5 621.3,284.2 600.0,290.0 C578.7,295.8 493.3,291.3 472.0,290.0 C450.7,288.7 471.3,285.3 472.0,282.0Z" fill="#fff" stroke="none"/>
<path d="M472.0,282.0 C472.7,280.0 474.8,274.5 476.0,270.0 C477.2,265.5 478.2,259.1 479.0,255.0 C479.8,250.9 480.1,248.0 480.9,245.3 C481.7,242.6 482.5,240.5 483.8,238.6 C485.1,236.7 486.9,235.4 488.6,233.8 C490.4,232.2 492.4,230.0 494.3,229.0 C496.2,228.0 498.5,227.8 500.1,227.6 C501.7,227.4 502.3,227.1 503.9,228.0 C505.5,228.9 507.6,231.2 509.7,232.8 C511.8,234.4 514.6,236.5 516.4,237.6 C518.1,238.7 518.6,239.0 520.2,239.5 C521.8,240.0 524.1,240.2 526.0,240.5 C527.9,240.8 529.7,241.2 531.7,241.5 C533.7,241.8 535.1,242.2 538.0,242.4 C540.9,242.7 545.8,242.7 549.0,243.0 C552.2,243.3 554.3,243.3 557.0,244.0 C559.7,244.7 561.0,245.8 565.0,247.0 C569.0,248.2 576.8,250.1 581.0,251.0 C585.2,251.9 588.5,252.2 590.0,252.5" fill="none" stroke="#1a1a1a" stroke-width="1.60"/>
<path d="M489.5,233.8 C489.4,235.1 488.6,238.8 488.6,241.5 C488.6,244.2 488.9,247.6 489.5,250.0 C490.1,252.4 490.8,254.0 492.0,256.0 C493.2,258.0 495.5,260.0 497.0,262.0 C498.5,264.0 499.5,265.7 501.0,268.0 C502.5,270.3 505.2,274.7 506.0,276.0" fill="none" stroke="#1a1a1a" stroke-width="1.40"/>
<path d="M494.3,231.9 C495.1,232.7 497.2,235.1 499.1,236.7 C501.0,238.3 503.7,240.4 505.8,241.5 C507.9,242.6 509.5,243.4 511.6,243.4 C513.7,243.4 517.2,241.8 518.3,241.5" fill="none" stroke="#1a1a1a" stroke-width="1.20"/>
<path d="M533.0,255.0 C533.3,254.2 534.2,251.8 535.0,250.5 C535.8,249.2 537.5,247.6 538.0,247.0" fill="none" stroke="#1a1a1a" stroke-width="1.00"/>
<path d="M545.0,247.0 C545.8,246.8 548.2,245.5 550.0,245.5 C551.8,245.5 554.3,246.4 556.0,247.0 C557.7,247.6 559.3,248.7 560.0,249.0" fill="none" stroke="#1a1a1a" stroke-width="1.00"/>
<path d="M543.0,259.0 C544.5,258.7 549.0,257.8 552.0,257.0 C555.0,256.2 559.5,254.5 561.0,254.0" fill="none" stroke="#1a1a1a" stroke-width="1.00"/>
<path d="M485.0,267.0 C486.2,267.1 490.0,267.1 492.0,267.5 C494.0,267.9 494.8,268.2 497.0,269.5 C499.2,270.8 503.7,274.1 505.0,275.0" fill="none" stroke="#1a1a1a" stroke-width="1.00"/>
<path d="M531.8,233.8 C532.8,233.2 535.7,231.2 538.0,230.0 C540.3,228.8 542.8,227.8 545.4,226.5 C548.0,225.2 551.0,223.6 553.6,222.4 C556.2,221.2 558.2,220.9 560.8,219.4 C563.4,217.9 567.0,215.2 569.0,213.2 C571.0,211.2 572.4,208.4 573.1,207.5" fill="none" stroke="#1a1a1a" stroke-width="1.50"/>
<path d="M553.6,191.7 C553.1,189.1 555.5,186.6 556.7,184.5 C557.9,182.4 559.4,180.7 560.8,179.4 C562.2,178.1 563.2,177.4 564.9,176.8 C566.6,176.2 569.1,175.7 571.0,175.8 C572.9,175.9 574.8,176.4 576.2,177.3 C577.6,178.2 578.5,179.9 579.2,181.4 C579.9,182.9 580.3,184.4 580.3,186.5 C580.3,188.6 579.9,191.5 579.2,193.7 C578.5,195.9 577.2,198.0 576.2,199.9 C575.2,201.8 574.5,203.8 573.1,205.0 C571.7,206.2 570.2,207.8 568.0,207.0 C565.8,206.2 562.4,202.6 560.0,200.0 C557.6,197.4 554.1,194.3 553.6,191.7Z" fill="#fff" stroke="none"/>
<path d="M553.6,191.7 C554.1,190.5 555.5,186.6 556.7,184.5 C557.9,182.4 559.4,180.7 560.8,179.4 C562.2,178.1 563.2,177.4 564.9,176.8 C566.6,176.2 569.1,175.7 571.0,175.8 C572.9,175.9 574.8,176.4 576.2,177.3 C577.6,178.2 578.5,179.9 579.2,181.4 C579.9,182.9 580.3,184.4 580.3,186.5 C580.3,188.6 579.9,191.5 579.2,193.7 C578.5,195.9 577.2,198.0 576.2,199.9 C575.2,201.8 574.0,203.6 573.1,205.0 C572.2,206.4 571.4,207.6 571.0,208.1" fill="none" stroke="#1a1a1a" stroke-width="1.50"/>
<path d="M557.7,185.5 C558.2,184.1 559.8,182.2 560.8,181.4 C561.8,180.6 562.4,180.2 563.8,180.4 C565.2,180.6 567.5,181.6 569.0,182.4 C570.5,183.2 572.1,184.5 573.1,185.5 C574.1,186.5 574.8,187.4 575.1,188.6 C575.4,189.8 575.4,191.5 575.1,192.7 C574.8,193.9 574.1,195.0 573.1,195.8 C572.1,196.7 570.4,197.6 569.0,197.8 C567.6,198.0 566.3,197.5 564.9,196.8 C563.5,196.1 562.0,194.9 560.8,193.7 C559.6,192.5 558.2,191.0 557.7,189.6 C557.2,188.2 557.2,186.9 557.7,185.5Z" fill="none" stroke="#1a1a1a" stroke-width="1.20"/>
<path d="M541.3,198.8 C542.1,197.4 543.9,196.7 545.4,195.8 C546.9,195.0 548.6,194.0 550.5,193.7 C552.4,193.4 554.8,193.7 556.7,194.2 C558.6,194.7 560.4,195.7 561.8,196.8 C563.2,197.9 564.1,199.4 564.9,200.9 C565.7,202.4 566.4,204.3 566.4,206.0 C566.4,207.7 565.7,209.6 564.9,211.2 C564.1,212.8 563.2,214.1 561.8,215.3 C560.4,216.5 558.6,217.6 556.7,218.3 C554.8,219.0 552.4,219.4 550.5,219.4 C548.6,219.4 546.9,219.0 545.4,218.3 C543.9,217.6 542.1,216.7 541.3,215.3 C540.4,213.9 540.5,212.0 540.3,210.1 C540.1,208.2 540.1,205.9 540.3,204.0 C540.5,202.1 540.4,200.2 541.3,198.8Z" fill="#fff" stroke="#1a1a1a" stroke-width="1.50"/>
<path d="M543.3,201.9 C544.1,201.1 546.0,199.7 547.4,199.4 C548.8,199.2 550.1,199.6 551.5,200.4 C552.9,201.2 554.4,202.7 555.6,204.0 C556.8,205.3 558.4,206.7 558.7,208.1 C559.1,209.5 558.6,211.2 557.7,212.2 C556.9,213.2 555.1,213.7 553.6,214.2 C552.1,214.7 550.0,215.5 548.5,215.3 C547.0,215.1 545.4,214.4 544.4,213.2 C543.4,212.0 542.6,209.6 542.3,208.1 C541.9,206.6 542.1,205.0 542.3,204.0 C542.5,203.0 542.4,202.7 543.3,201.9Z" fill="none" stroke="#1a1a1a" stroke-width="1.20"/>
<path d="M542.3,178.3 C543.7,177.8 547.4,175.6 550.5,175.3 C553.6,175.0 559.1,176.1 560.8,176.3" fill="none" stroke="#1a1a1a" stroke-width="1.30"/>
<path d="M540.3,165.0 C541.1,166.0 543.7,169.5 545.4,171.2 C547.1,172.9 549.6,174.6 550.5,175.3" fill="none" stroke="#1a1a1a" stroke-width="1.20"/>
<path d="M574.1,176.3 C574.6,175.5 576.0,172.7 577.2,171.2 C578.4,169.7 580.0,168.1 581.3,167.1 C582.6,166.1 584.4,165.3 585.0,165.0" fill="none" stroke="#1a1a1a" stroke-width="1.30"/>
<path d="M573.1,207.0 C574.5,206.8 579.1,206.2 581.3,206.0 C583.4,205.8 585.2,206.0 586.0,206.0" fill="none" stroke="#1a1a1a" stroke-width="1.20"/>
</g>
<g clip-path="url(#c4)">
<path d="M10.0,333.6 L44.0,345.3" fill="none" stroke="#1a1a1a" stroke-width="1.10"/>
<path d="M10.0,337.3 L39.0,348.3" fill="none" stroke="#1a1a1a" stroke-width="1.10"/>
<path d="M153.5,345.9 L190.0,332.2" fill="none" stroke="#1a1a1a" stroke-width="1.10"/>
<path d="M155.0,349.8 L190.0,337.5" fill="none" stroke="#1a1a1a" stroke-width="1.10"/>
<path d="M10.0,400.5 L42.1,411.4" fill="none" stroke="#1a1a1a" stroke-width="1.50"/>
<path d="M155.5,422.3 L190.0,408.5" fill="none" stroke="#1a1a1a" stroke-width="1.50"/>
<path d="M55.8,437.8 L55.8,482.0" fill="none" stroke="#1a1a1a" stroke-width="1.50"/>
<path d="M147.8,443.0 L147.8,482.0" fill="none" stroke="#1a1a1a" stroke-width="1.50"/>
<path d="M97.1,434.6 L97.1,482.0" fill="none" stroke="#1a1a1a" stroke-width="1.50"/>
<path d="M97.1,379.0 L97.1,430.5" fill="none" stroke="#1a1a1a" stroke-width="1.30"/>
<path d="M46.8,417.0 C46.0,416.1 43.6,413.9 42.1,411.4 C40.6,408.9 39.4,405.2 38.0,402.0 C36.6,398.8 35.1,395.2 34.0,392.0 C32.9,388.8 32.1,386.0 31.5,383.0 C30.9,380.0 30.4,376.9 30.2,374.2 C30.0,371.4 29.8,369.3 30.2,366.5 C30.6,363.7 31.4,360.1 32.5,357.3 C33.6,354.5 35.1,352.2 37.1,349.6 C39.1,347.0 41.5,344.1 44.8,341.9 C48.1,339.7 52.5,337.9 57.1,336.5 C61.7,335.1 67.6,333.9 72.5,333.2 C77.4,332.5 82.2,332.4 86.3,332.2 C90.4,332.0 93.4,331.9 97.0,332.0 C100.6,332.1 102.7,331.9 107.8,332.5 C112.9,333.1 121.9,334.2 127.8,335.8 C133.7,337.4 138.8,339.6 143.2,341.9 C147.5,344.2 151.1,347.3 153.9,349.6 C156.7,351.9 158.6,353.5 160.1,355.8 C161.6,358.1 162.6,360.7 163.2,363.5 C163.8,366.3 163.9,369.6 163.9,372.7 C163.9,375.8 163.6,378.9 163.2,381.9 C162.8,384.9 162.3,387.4 161.3,390.5 C160.3,393.6 158.5,397.6 157.0,400.8 C155.5,404.1 154.2,407.2 152.4,410.0 C150.6,412.8 147.2,416.4 146.2,417.7" fill="none" stroke="#1a1a1a" stroke-width="1.70"/>
<path d="M60.0,432.0 C60.8,432.4 62.7,433.5 64.8,434.6 C66.9,435.7 69.9,437.6 72.5,438.5 C75.1,439.4 77.4,440.1 80.2,440.0 C83.0,439.9 86.9,438.6 89.4,437.7 C92.0,436.8 94.2,435.3 95.5,434.6 C96.8,433.9 96.3,433.2 97.1,433.5 C97.9,433.8 99.2,435.5 100.2,436.2 C101.2,436.9 101.2,437.1 103.2,437.7 C105.2,438.3 109.6,439.9 112.4,440.0 C115.2,440.1 117.7,439.3 120.1,438.5 C122.5,437.7 125.2,436.3 127.0,435.4 C128.8,434.5 130.3,433.4 131.0,433.0" fill="none" stroke="#1a1a1a" stroke-width="1.70"/>
<path d="M37.1,352.7 C39.2,353.4 45.4,355.5 50.0,357.0 C54.6,358.5 60.1,360.4 64.8,361.9 C69.5,363.4 74.2,364.7 78.0,366.0 C81.8,367.3 85.2,368.4 87.8,369.6 C90.4,370.9 92.1,372.1 93.5,373.5 C94.9,374.9 95.7,376.4 96.3,378.0 C96.9,379.6 97.0,382.2 97.1,383.0" fill="none" stroke="#1a1a1a" stroke-width="1.60"/>
<path d="M97.1,383.0 C97.2,381.8 97.3,377.9 98.0,376.0 C98.7,374.1 100.1,372.6 101.5,371.5 C102.9,370.4 103.6,370.5 106.2,369.6 C108.8,368.7 113.4,367.3 117.0,366.0 C120.6,364.7 123.8,363.4 127.8,361.9 C131.8,360.4 136.7,358.5 141.0,357.0 C145.3,355.5 150.7,353.2 153.9,352.7 C157.1,352.2 159.1,353.9 160.1,354.2" fill="none" stroke="#1a1a1a" stroke-width="1.60"/>
<path d="M30.9,360.4 C33.2,361.9 39.1,366.8 44.8,369.6 C50.4,372.4 58.4,375.2 64.8,377.3 C71.2,379.4 77.8,380.8 83.2,381.9 C88.6,383.0 92.5,383.4 97.0,383.8 C101.5,384.2 106.2,384.4 110.0,384.5 C113.8,384.6 114.6,385.1 120.1,384.2 C125.6,383.2 136.3,381.0 143.2,378.8 C150.1,376.6 158.2,372.8 161.6,371.2 C165.0,369.6 163.2,369.8 163.5,369.5" fill="none" stroke="#1a1a1a" stroke-width="1.60"/>
<path d="M30.9,371.2 C33.2,372.7 40.7,377.9 44.8,380.4 C48.9,382.9 52.2,384.4 55.5,386.0 C58.8,387.6 61.5,388.6 64.8,390.0 C68.1,391.4 72.1,393.1 75.5,394.2 C78.9,395.3 81.4,395.9 85.0,396.5 C88.6,397.1 92.9,397.5 97.1,397.5 C101.3,397.5 106.2,396.9 110.0,396.5 C113.8,396.1 115.9,396.1 120.1,395.4 C124.3,394.7 131.2,393.4 135.0,392.5 C138.8,391.6 139.9,391.2 143.2,390.0 C146.5,388.8 151.9,386.4 155.0,385.0 C158.1,383.6 160.2,382.7 161.6,381.9 C163.0,381.1 163.2,380.3 163.5,380.0" fill="none" stroke="#1a1a1a" stroke-width="1.60"/>
<path d="M86.3,323.6 L108.4,324.4 L107,338 L115.1,339.5 L96.4,355.3 L79.1,337.6 L87.8,337.6 Z" fill="#c8c9cb" stroke="#333" stroke-width="1.1" stroke-linejoin="miter"/>
<path d="M62.6,417 L64.7,440.5 L57.5,435.3 L48.9,447.3 L32.7,432.8 L43.4,423 L36.5,417.8 Z" fill="#c8c9cb" stroke="#333" stroke-width="1.1" stroke-linejoin="miter"/>
<path d="M133.9,414.6 L156.2,421.5 L150.8,426.2 L158.5,436.9 L138.5,446.9 L133.9,433.8 L126.2,435.4 Z" fill="#c8c9cb" stroke="#333" stroke-width="1.1" stroke-linejoin="miter"/>
</g>
<g clip-path="url(#c5)">
<path d="M212.0,335.2 L250.4,351.2" fill="none" stroke="#1a1a1a" stroke-width="1.10"/>
<path d="M212.0,338.5 L245.8,352.7" fill="none" stroke="#1a1a1a" stroke-width="1.10"/>
<path d="M331.1,351.2 L392.0,328.8" fill="none" stroke="#1a1a1a" stroke-width="1.10"/>
<path d="M334.9,354.2 L392.0,333.2" fill="none" stroke="#1a1a1a" stroke-width="1.10"/>
<path d="M212.0,387.0 L249.6,399.2" fill="none" stroke="#1a1a1a" stroke-width="1.50"/>
<path d="M259.6,410.0 L259.6,482.0" fill="none" stroke="#1a1a1a" stroke-width="1.50"/>
<path d="M289.6,417.0 L289.6,482.0" fill="none" stroke="#1a1a1a" stroke-width="1.50"/>
<path d="M289.6,378.0 L289.6,414.0" fill="none" stroke="#1a1a1a" stroke-width="1.30"/>
<path d="M330.0,425.0 L392.0,402.0" fill="none" stroke="#1a1a1a" stroke-width="1.50"/>
<path d="M299.6,419.2 C298.6,418.8 295.0,417.7 293.5,416.9 C292.0,416.1 291.2,414.6 290.4,414.4 C289.6,414.1 289.8,414.7 288.8,415.4 C287.8,416.1 286.0,417.9 284.2,418.5 C282.4,419.1 280.7,419.5 278.1,419.2 C275.5,418.9 271.9,418.4 268.8,416.9 C265.7,415.4 262.7,412.9 259.6,410.0 C256.5,407.1 252.7,402.4 250.4,399.2 C248.1,395.9 247.0,393.4 245.8,390.5 C244.7,387.6 244.2,384.4 243.5,382.0 C242.8,379.6 242.2,378.4 241.9,375.8 C241.6,373.2 241.6,369.6 241.9,366.5 C242.2,363.4 242.1,359.9 243.5,357.3 C244.9,354.8 247.5,353.1 250.4,351.2 C253.3,349.3 256.8,347.4 261.2,345.8 C265.6,344.2 271.4,342.7 276.5,341.9 C281.6,341.1 288.3,341.1 291.9,341.0 C295.5,340.9 294.4,340.7 298.0,341.1 C301.6,341.5 309.0,342.3 313.4,343.5 C317.8,344.7 321.1,346.3 324.2,348.1 C327.3,349.9 329.9,351.9 331.8,354.2 C333.7,356.5 334.8,359.1 335.7,361.9 C336.6,364.7 337.2,368.1 337.2,371.2 C337.2,374.3 336.3,377.3 335.7,380.4 C335.1,383.5 334.3,386.3 333.4,389.6 C332.4,392.9 331.9,396.6 330.0,400.0 C328.1,403.4 325.3,407.2 322.0,410.0 C318.7,412.8 313.7,415.5 310.0,417.0 C306.3,418.5 301.7,418.8 300.0,419.2" fill="none" stroke="#1a1a1a" stroke-width="1.70"/>
<path d="M244.2,357.5 C247.0,358.2 255.8,360.1 261.2,361.9 C266.6,363.7 272.4,366.3 276.5,368.1 C280.6,369.9 283.8,371.2 285.8,372.7 C287.9,374.2 288.2,375.8 288.8,377.3 C289.4,378.8 289.5,381.1 289.6,381.9" fill="none" stroke="#1a1a1a" stroke-width="1.60"/>
<path d="M289.6,381.9 C289.7,380.9 289.7,377.8 290.4,376.0 C291.1,374.2 292.7,372.3 294.0,371.0 C295.3,369.7 294.8,369.5 298.0,368.1 C301.2,366.7 308.3,364.6 313.4,362.7 C318.5,360.8 325.6,357.8 328.8,356.5 C332.0,355.2 332.0,355.2 332.6,355.0" fill="none" stroke="#1a1a1a" stroke-width="1.60"/>
<path d="M242.7,366.5 C245.3,367.8 253.0,372.1 258.1,374.2 C263.2,376.2 268.2,377.7 273.5,378.8 C278.8,379.9 285.5,380.5 289.6,380.6 C293.7,380.7 295.4,379.9 298.0,379.6 C300.6,379.3 301.9,379.2 305.0,378.8 C308.1,378.4 312.5,378.3 316.5,377.3 C320.5,376.3 325.5,374.2 328.8,372.7 C332.1,371.2 335.2,368.9 336.5,368.1" fill="none" stroke="#1a1a1a" stroke-width="1.60"/>
<path d="M242.7,371.2 C245.8,373.0 255.6,379.3 261.2,381.9 C266.8,384.4 271.6,385.5 276.5,386.5 C281.4,387.5 286.8,387.7 290.4,388.1 C294.0,388.5 295.6,388.9 298.0,388.8 C300.4,388.7 301.1,387.9 305.0,387.3 C308.9,386.7 316.1,386.7 321.1,385.0 C326.1,383.3 332.2,379.0 334.9,377.3 C337.5,375.6 336.6,375.4 337.0,375.0" fill="none" stroke="#1a1a1a" stroke-width="1.60"/>
</g>
<g fill="none" stroke="#000" stroke-width="7.0">
<rect x="9.4" y="105.9" width="174.2" height="173.6" rx="35"/>
<rect x="210.4" y="105.4" width="173.7" height="174" rx="35"/>
<rect x="411.7" y="105.9" width="173.9" height="173.6" rx="35"/>
<rect x="12.4" y="305.4" width="173.8" height="174" rx="35"/>
<rect x="214.2" y="305.3" width="174" height="174" rx="35"/>
</g>
<g fill="#000">
<circle cx="20.5" cy="116.7" r="19.4"/>
<circle cx="222.0" cy="116.5" r="19.4"/>
<circle cx="422.5" cy="117.0" r="19.4"/>
<circle cx="23.0" cy="316.5" r="19.4"/>
<circle cx="224.5" cy="316.4" r="19.4"/>
</g>
<g fill="#fff" stroke="#fff" stroke-width="1.1" font-size="25.5" text-anchor="middle">
<text x="20.5" y="125.6">1</text>
<text x="222.0" y="125.4">2</text>
<text x="422.5" y="125.9">3</text>
<text x="23.0" y="325.4">4</text>
<text x="224.5" y="325.3">5</text>
</g>
<circle cx="349.6" cy="441.1" r="51.9" fill="#fff" stroke="#231f20" stroke-width="3.1"/>
<path d="M349.6,406.3 L349.6,392.8" stroke="#bababa" stroke-width="3.8" stroke-linecap="butt"/>
<path d="M367.0,411.0 L373.8,399.3" stroke="#bababa" stroke-width="3.8" stroke-linecap="butt"/>
<path d="M379.7,423.7 L391.4,417.0" stroke="#bababa" stroke-width="3.8" stroke-linecap="butt"/>
<path d="M384.4,441.1 L397.9,441.1" stroke="#bababa" stroke-width="3.8" stroke-linecap="butt"/>
<path d="M379.7,458.5 L391.4,465.2" stroke="#bababa" stroke-width="3.8" stroke-linecap="butt"/>
<path d="M367.0,471.2 L373.8,482.9" stroke="#bababa" stroke-width="3.8" stroke-linecap="butt"/>
<path d="M349.6,475.9 L349.6,489.4" stroke="#bababa" stroke-width="3.8" stroke-linecap="butt"/>
<path d="M332.2,471.2 L325.5,482.9" stroke="#bababa" stroke-width="3.8" stroke-linecap="butt"/>
<path d="M319.5,458.5 L307.8,465.3" stroke="#bababa" stroke-width="3.8" stroke-linecap="butt"/>
<path d="M314.8,441.1 L301.3,441.1" stroke="#bababa" stroke-width="3.8" stroke-linecap="butt"/>
<path d="M319.5,423.7 L307.8,417.0" stroke="#bababa" stroke-width="3.8" stroke-linecap="butt"/>
<path d="M332.2,411.0 L325.4,399.3" stroke="#bababa" stroke-width="3.8" stroke-linecap="butt"/>
<path d="M341.2,392.6 L342.2,392.6 L351.2,431 L365.2,413.2 L366.2,414 L355.2,438.5 L345.2,438.5 Z" fill="#231f20"/>
<circle cx="349.4" cy="440.9" r="4.6" fill="#231f20"/><circle cx="349.4" cy="440.9" r="2.6" fill="#fff"/>
<text x="351.3" y="466.2" font-size="21.5" fill="#231f20" stroke="#231f20" stroke-width="0.9" text-anchor="middle">24h</text>
</svg>
<div class="t" id="w1" style="left:15.70px;top:504.80px;font-size:22px;transform:scaleX(1.0636);"><b>Warning:</b> Some surface finishes may be affected by the</div>
<div class="t" id="w2" style="left:15.41px;top:532.70px;font-size:22px;transform:scaleX(1.0857);">adhesive. Take care when removing this product and</div>
<div class="t" id="w3" style="left:15.40px;top:561.50px;font-size:22px;transform:scaleX(1.1000);">adhesive to avoid damage to the furniture.</div>
</body></html>
